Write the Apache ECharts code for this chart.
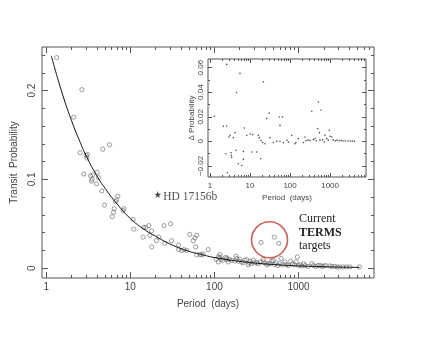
<!DOCTYPE html>
<html>
<head>
<meta charset="utf-8">
<script src="https://cdn.jsdelivr.net/npm/echarts@6/dist/echarts.min.js"></script>
<style>
html, body { margin: 0; padding: 0; background: #fff; }
#chart { width: 436px; height: 337px; }
</style>
</head>
<body>
<div id="chart"></div>
<script>
// [period (days), transit probability]
var planets = [
  [1.33,0.237],[2.12,0.170],[2.65,0.201],[2.53,0.130],[2.98,0.127],[3.04,0.124],[3.08,0.128],
  [2.79,0.106],[3.36,0.104],[3.58,0.105],[4.03,0.108],[3.51,0.100],[3.45,0.098],[4.18,0.102],
  [3.96,0.095],[4.58,0.087],[4.7,0.134],[5.65,0.139],[7.1,0.081],[6.85,0.077],[6.67,0.075],
  [4.93,0.071],[6.42,0.067],[6.3,0.063],[6.08,0.058],[8.44,0.067],[8.2,0.065],[10.8,0.055],
  [11,0.044],[14.4,0.046],[15.3,0.046],[16.6,0.048],[17.9,0.042],[17.1,0.037],[14.2,0.035],
  [18,0.024],[20.5,0.031],[21.8,0.035],[25.2,0.048],[30.1,0.050],[25.7,0.028],[30.9,0.031],
  [37.5,0.026],[37.5,0.021],[40.7,0.020],[43.4,0.021],[46.8,0.020],[51,0.038],[56,0.031],
  [58.6,0.034],[61.4,0.037],[59.7,0.024],[61.4,0.015],[67,0.0154],[70.5,0.015],[73.6,0.016],
  [84.4,0.021],[105,0.010],[111,0.007],[112,0.013],[116,0.0154],[116,0.012],[120,0.010],
  [127,0.009],[135,0.012],[140,0.0098],[140,0.0116],[146,0.007],[150,0.010],[160,0.009],
  [175,0.008],[180,0.0135],[184,0.011],[192,0.008],[200,0.010],[210,0.007],[220,0.006],
  [230,0.009],[241,0.0098],[253,0.004],[260,0.006],[265,0.0079],[275,0.005],[290,0.009],
  [300,0.006],[318,0.0064],[330,0.005],[350,0.007],[381,0.0071],[381,0.0098],[400,0.006],
  [420,0.004],[437,0.0053],[460,0.005],[480,0.008],[501,0.009],[520,0.004],[540,0.006],
  [570,0.003],[600,0.005],[620,0.011],[650,0.004],[691,0.0071],[720,0.004],[760,0.003],
  [807,0.0079],[850,0.005],[900,0.004],[934,0.0071],[968,0.0127],[1000,0.003],[1050,0.004],
  [1100,0.0025],[1150,0.005],[1200,0.003],[1300,0.002],[1436,0.0053],[1500,0.003],[1600,0.002],
  [1700,0.003],[1805,0.0034],[1900,0.002],[2000,0.0025],[2100,0.003],[2371,0.0026],[2500,0.002],
  [2700,0.002],[2900,0.0015],[3100,0.0015],[3400,0.0015],[3720,0.0015],[4100,0.0015],[5300,0.0015]
];
var termsTargets = [[358,0.029],[515,0.035],[581,0.028]];
var termsCircle = [[452,0.032]];
var hd17156b = [[21.2,0.083]];
var fitCurve = [
  [1.15,0.239],[1.5,0.201],[2,0.166],[2.5,0.143],[3,0.126],[4,0.104],[5,0.090],[7,0.072],
  [10,0.056],[15,0.043],[20,0.036],[30,0.027],[50,0.019],[70,0.0155],[100,0.012],[200,0.0077],
  [300,0.0058],[500,0.0042],[1000,0.0026],[2000,0.0017],[3000,0.0013],[5300,0.0009]
];
// [period (days), delta probability]
var residuals = [
  [1.28,0.0204],[2.15,0.0122],[2.51,-0.0101],[2.6,0.0125],[2.61,0.0626],[2.71,-0.0256],[2.99,0.0035],
  [3.16,0.0049],[3.35,-0.0093],[3.48,-0.013],[3.4,-0.0114],[3.83,0.003],[4.2,0.0071],[4.47,-0.0073],
  [4.6,0.0397],[5.1,-0.0182],[5.6,0.0553],[6.2,-0.0196],[6.8,-0.0082],[6.8,-0.0147],[7.2,0.0109],
  [8.3,0.0049],[10,0.006],[11,-0.0087],[11.7,0.0055],[14.7,-0.0087],[16.1,0.0049],[17.1,0.003],
  [18.5,-0.0141],[18.8,0.0006],[20.8,-0.001],[21.5,0.0484],[23.7,-0.0019],[26,0.0185],[30,0.023],
  [31.6,0.003],[38.3,-0.001],[46.4,0],[54,0.0198],[56,0.013],[56,0],[65,0.0198],[68,-0.001],
  [83,0.0008],[91,-0.0006],[110,0.0049],[133,-0.0019],[140,-0.001],[161,0.0022],[215,-0.001],
  [237,0.0035],[250,0.0005],[280,0.001],[316,0.0008],[348,0.0245],[380,0.0015],[422,0.0022],
  [450,0.0005],[490,0.0104],[510,0.032],[540,0.0071],[560,0.001],[596,0.0253],[650,0.0012],
  [720,-0.0006],[750,0.0049],[826,0.0022],[900,0.0008],[961,0.009],[1000,0.0041],[1100,0.0035],
  [1200,0.0012],[1350,0.0005],[1500,0.001],[1700,0.0004],[1900,0.0008],[2100,0.0003],[2400,0.0005],
  [2800,0.0002],[3200,0.0003],[3600,0.0002],[4070,0]
];

var periodLabels = [1, 10, 100, 1000];
var probLabels = [0, 0.1, 0.2];
var probMinor = [0.02, 0.04, 0.06, 0.08, 0.12, 0.14, 0.16, 0.18, 0.22, 0.24];
var deltaLabels = [-0.02, 0, 0.02, 0.04, 0.06];
var deltaMinor = [-0.01, 0.01, 0.03, 0.05];

var pMin = 0.89, pMax = 7900;

function lg(v) { return Math.log10(v); }
function toLog(arr) { return arr.map(function (d) { return [lg(d[0]), d[1]]; }); }

var periodMinor = [];
for (var dec = 1; dec <= 1000; dec *= 10) {
  for (var k = 2; k <= 9; k++) {
    if (k * dec < pMax) periodMinor.push(k * dec);
  }
}

var tickColor = '#555';
var font = 'Liberation Sans';

function axis(grid, pos, min, max, ticks, len, label) {
  var a = {
    type: 'value', gridIndex: grid, position: pos, min: min, max: max,
    axisLine: { show: false, onZero: false },
    splitLine: { show: false },
    axisTick: { show: true, inside: true, length: len, customValues: ticks,
      lineStyle: { color: tickColor, width: 1 } },
    axisLabel: { show: false }
  };
  if (label) {
    a.axisLabel = label;
  }
  return a;
}

function periodFmt(v) { return String(Math.round(Math.pow(10, v))); }

var xAxes = [
  // main
  axis(0, 'bottom', lg(pMin), lg(pMax), periodLabels.map(lg), 6, {
    show: true, customValues: periodLabels.map(lg), formatter: periodFmt,
    fontSize: 10, color: '#444', fontFamily: font, margin: 4
  }),
  axis(0, 'bottom', lg(pMin), lg(pMax), periodMinor.map(lg), 3),
  axis(0, 'top', lg(pMin), lg(pMax), periodLabels.map(lg), 6),
  axis(0, 'top', lg(pMin), lg(pMax), periodMinor.map(lg), 3),
  // inset
  axis(1, 'bottom', lg(pMin), lg(pMax), periodLabels.map(lg), 4, {
    show: true, customValues: periodLabels.map(lg), formatter: periodFmt,
    fontSize: 8, color: '#444', fontFamily: font, margin: 5
  }),
  axis(1, 'bottom', lg(pMin), lg(pMax), periodMinor.map(lg), 2),
  axis(1, 'top', lg(pMin), lg(pMax), periodLabels.map(lg), 4),
  axis(1, 'top', lg(pMin), lg(pMax), periodMinor.map(lg), 2)
];
xAxes[0].name = 'Period  (days)';
xAxes[0].nameLocation = 'middle';
xAxes[0].nameGap = 21;
xAxes[0].nameTextStyle = { fontSize: 10, color: '#444', fontFamily: font };
xAxes[4].name = 'Period  (days)';
xAxes[4].nameLocation = 'middle';
xAxes[4].nameGap = 17;
xAxes[4].nameTextStyle = { fontSize: 8, color: '#444', fontFamily: font };

var yAxes = [
  axis(0, 'left', -0.011, 0.249, probLabels, 6, {
    show: true, customValues: probLabels, rotate: 90,
    formatter: function (v) { return String(+v.toFixed(2)); },
    fontSize: 10, color: '#444', fontFamily: font, margin: 5
  }),
  axis(0, 'left', -0.011, 0.249, probMinor, 3),
  axis(0, 'right', -0.011, 0.249, probLabels, 6),
  axis(0, 'right', -0.011, 0.249, probMinor, 3),
  axis(1, 'left', -0.029, 0.067, deltaLabels, 4, {
    show: true, customValues: deltaLabels, rotate: 90,
    formatter: function (v) {
      if (Math.abs(v) < 1e-9) return '0';
      return (v < 0 ? '\u2212' : '') + Math.abs(v).toFixed(2);
    },
    fontSize: 8, color: '#444', fontFamily: font, margin: 3
  }),
  axis(1, 'left', -0.029, 0.067, deltaMinor, 2),
  axis(1, 'right', -0.029, 0.067, deltaLabels, 4),
  axis(1, 'right', -0.029, 0.067, deltaMinor, 2)
];
yAxes[0].name = 'Transit  Probability';
yAxes[0].nameLocation = 'middle';
yAxes[0].nameRotate = 90;
yAxes[0].nameGap = 17;
yAxes[0].nameTextStyle = { fontSize: 10, color: '#444', fontFamily: font };
yAxes[4].name = '\u0394 Probability';
yAxes[4].nameLocation = 'middle';
yAxes[4].nameRotate = 90;
yAxes[4].nameGap = 12;
yAxes[4].nameTextStyle = { fontSize: 8, color: '#444', fontFamily: font };

var hollow = { color: 'rgba(0,0,0,0)', borderColor: '#666', borderWidth: 0.8 };

var myChart = echarts.init(document.getElementById('chart'));
myChart.setOption({
  animation: false,
  backgroundColor: '#fff',
  grid: [
    { left: 42, top: 47, width: 332, height: 231, show: true, borderColor: '#555', borderWidth: 1 },
    { left: 208, top: 59, width: 158, height: 118, show: true, borderColor: '#555', borderWidth: 1,
      backgroundColor: '#fff' }
  ],
  xAxis: xAxes,
  yAxis: yAxes,
  graphic: [{
    type: 'text', left: 299, top: 213,
    style: {
      text: '{a|Current}\n{b|TERMS}\n{a|targets}',
      rich: {
        a: { fontFamily: 'Liberation Serif', fontSize: 12, lineHeight: 13.5, fill: '#222' },
        b: { fontFamily: 'Liberation Serif', fontSize: 12, fontWeight: 'bold', lineHeight: 13.5, fill: '#222' }
      }
    }
  }],
  series: [
    {
      type: 'line', xAxisIndex: 0, yAxisIndex: 0, data: toLog(fitCurve),
      smooth: true, showSymbol: false, symbol: 'none',
      lineStyle: { color: '#111', width: 1 }, z: 3
    },
    {
      type: 'scatter', xAxisIndex: 0, yAxisIndex: 0, data: toLog(planets),
      symbol: 'circle', symbolSize: 4.2, itemStyle: hollow, z: 2
    },
    {
      type: 'scatter', xAxisIndex: 0, yAxisIndex: 0, data: toLog(termsTargets),
      symbol: 'circle', symbolSize: 4.2, itemStyle: hollow, z: 2
    },
    {
      type: 'scatter', xAxisIndex: 0, yAxisIndex: 0, data: toLog(termsCircle),
      symbol: 'circle', symbolSize: 36,
      itemStyle: { color: 'rgba(0,0,0,0)', borderColor: '#c03a32', borderWidth: 1.6 }, z: 4
    },
    {
      type: 'scatter', xAxisIndex: 0, yAxisIndex: 0, data: toLog(hd17156b),
      symbol: 'path://M50,0 L61,35 L98,35 L68,57 L79,91 L50,70 L21,91 L32,57 L2,35 L39,35 Z',
      symbolSize: 7, itemStyle: { color: '#111' },
      label: {
        show: true, position: 'right', distance: 2, offset: [0, 2.5],
        formatter: 'HD 17156b', fontFamily: 'Liberation Serif', fontSize: 11.5, color: '#222'
      }
    },
    {
      type: 'scatter', xAxisIndex: 4, yAxisIndex: 4, data: toLog(residuals),
      symbol: 'circle', symbolSize: 1.6, itemStyle: { color: '#222' }, z: 5
    }
  ]
});
</script>
</body>
</html>
